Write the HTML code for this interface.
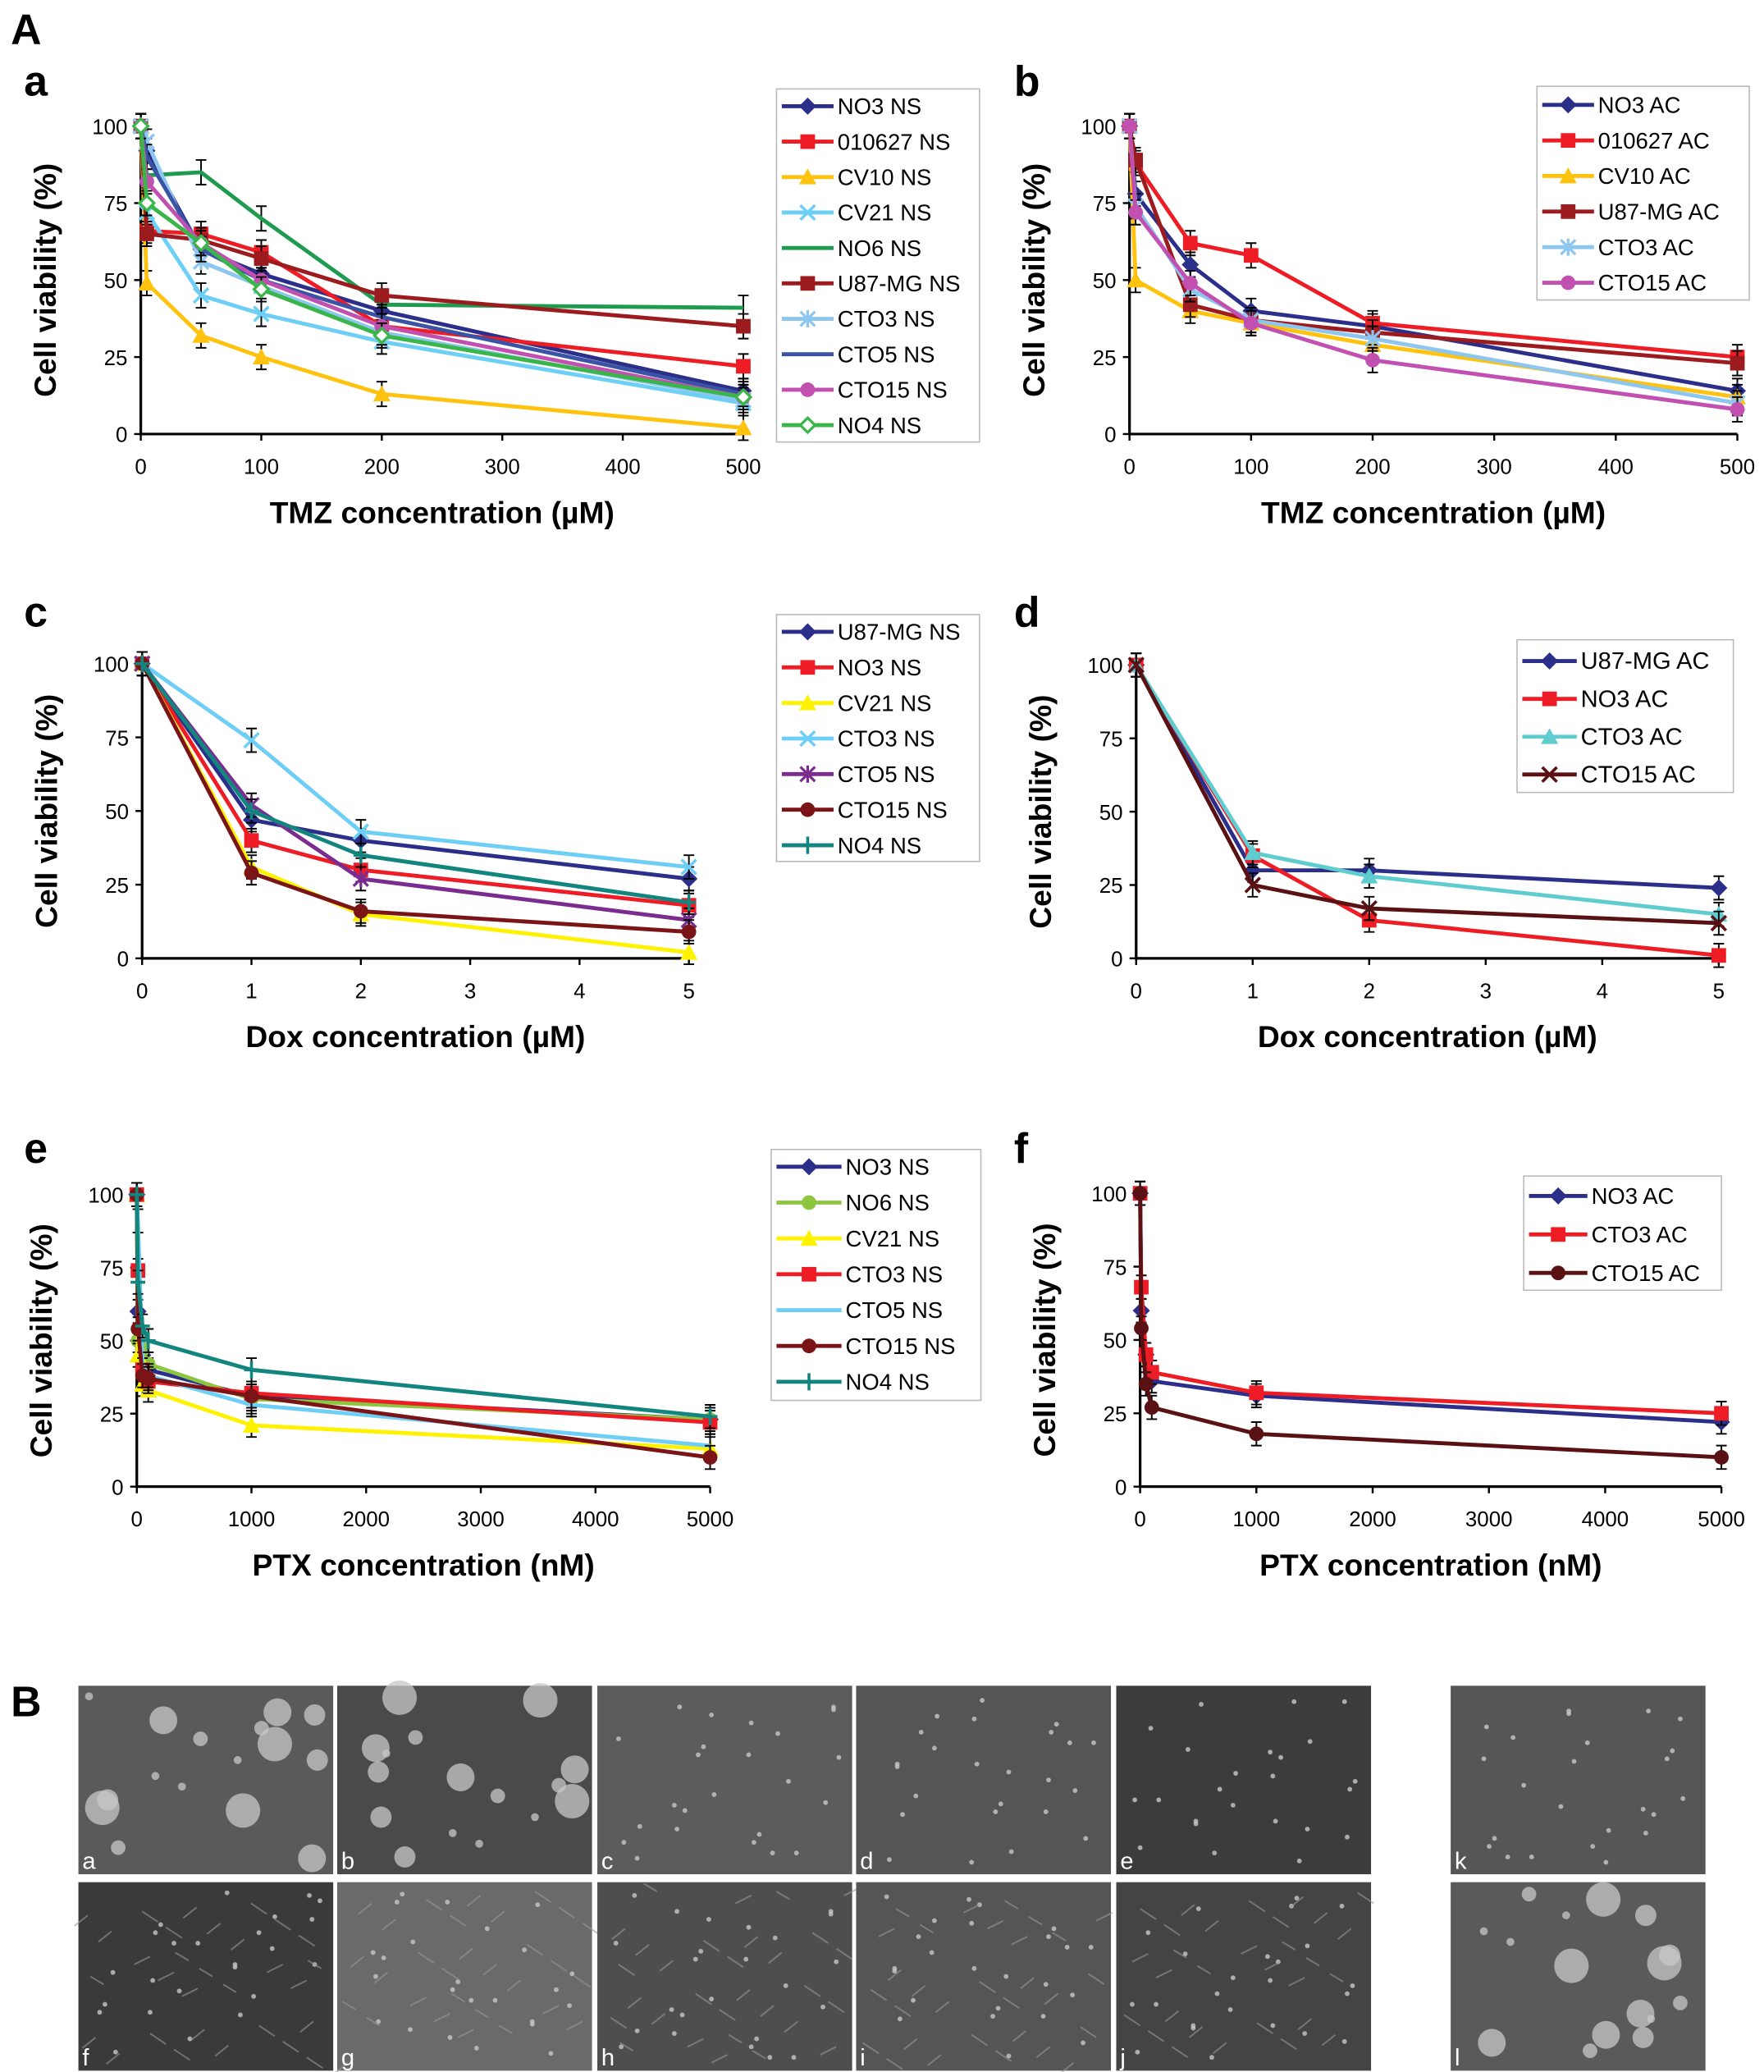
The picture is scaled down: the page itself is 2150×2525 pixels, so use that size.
<!DOCTYPE html>
<html><head><meta charset="utf-8"><style>
html,body{margin:0;padding:0;background:#fff}
svg{display:block;font-family:"Liberation Sans",Arial,sans-serif}
</style></head><body>
<svg id="fig" width="2150" height="2525" viewBox="0 0 1329 1561" xmlns="http://www.w3.org/2000/svg">
<rect width="1329" height="1561" fill="#fff"/>
<text x="8" y="33" font-size="32" font-weight="bold">A</text>
<text x="8" y="1293" font-size="32" font-weight="bold">B</text>
<g id="charts"></g>
<g id="photos"></g>
</svg>
<script>
// ---------- DATA ----------
const xTMZ = [0,5,50,100,200,500];
const aNames = ["NO3 NS","010627 NS","CV10 NS","CV21 NS","NO6 NS","U87-MG NS","CTO3 NS","CTO5 NS","CTO15 NS","NO4 NS"];
const aVals = [
 [100,92,60,52,40,14],[100,66,65,59,35,22],[100,49,32,25,13,2],[100,72,45,39,30,10],
 [100,84,85,70,42,41],[100,65,63,57,45,35],[100,95,56,48,33,11],[100,90,60,50,38,13],
 [100,82,62,50,35,12],[100,75,62,47,32,12]];
const bNames = ["NO3 AC","010627 AC","CV10 AC","U87-MG AC","CTO3 AC","CTO15 AC"];
const bVals = [[100,78,55,40,35,14],[100,88,62,58,36,25],[100,50,40,36,29,12],[100,89,42,37,33,23],[100,74,47,37,31,10],[100,72,49,36,24,8]];
const xDox = [0,1,2,5];
const cNames = ["U87-MG NS","NO3 NS","CV21 NS","CTO3 NS","CTO5 NS","CTO15 NS","NO4 NS"];
const cVals = [[100,47,40,27],[100,40,30,18],[100,31,15,2],[100,74,43,31],[100,52,27,13],[100,29,16,9],[100,50,35,19]];
const dNames = ["U87-MG AC","NO3 AC","CTO3 AC","CTO15 AC"];
const dVals = [[100,30,30,24],[100,35,13,1],[100,36,28,15],[100,25,17,12]];
const xPTX = [0,10,50,100,1000,5000];
const eNames = ["NO3 NS","NO6 NS","CV21 NS","CTO3 NS","CTO5 NS","CTO15 NS","NO4 NS"];
const eVals = [[100,60,45,40,31,23],[100,50,47,42,30,23],[100,45,35,33,21,13],[100,74,40,36,32,22],[100,91,42,38,28,14],[100,54,38,37,31,10],[100,70,55,50,40,24]];
const fNames = ["NO3 AC","CTO3 AC","CTO15 AC"];
const fVals = [[100,60,45,36,31,22],[100,68,45,39,32,25],[100,54,35,27,18,10]];
const yTicks = [0,25,50,75,100];
const tmzTicks = [0,100,200,300,400,500];
const doxTicks = [0,1,2,3,4,5];
const ptxTicks = [0,1000,2000,3000,4000,5000];

// ---------- STYLES ----------
const aSty=[["#2b2f8a","diamond"],["#ee1c24","square"],["#ffc20e","triangle"],["#6dcff6","x"],["#1e9b4f","none"],["#9b1b1e","square"],["#8dc6ee","star"],["#3a53a4","none"],["#c150b0","circle"],["#3ab54a","odiamond"]];
const bSty=[["#2b2f8a","diamond"],["#ee1c24","square"],["#ffc20e","triangle"],["#9b1b1e","square"],["#8dc6ee","star"],["#c150b0","circle"]];
const cSty=[["#2b2f8a","diamond"],["#ee1c24","square"],["#fff200","triangle"],["#6dcff6","x"],["#7b2c8f","star"],["#7a1416","circle"],["#13857f","plus"]];
const dSty=[["#2b2f8a","diamond"],["#ee1c24","square"],["#5fcdd0","triangle"],["#5a1114","x"]];
const eSty=[["#2b2f8a","diamond"],["#8cc63f","circle"],["#fff200","triangle"],["#ee1c24","square"],["#6dcff6","none"],["#7a1416","circle"],["#13857f","plus"]];
const fSty=[["#2b2f8a","diamond"],["#ee1c24","square"],["#5a1114","circle"]];

const NS="http://www.w3.org/2000/svg";
function mk(tag,attrs,parent){const e=document.createElementNS(NS,tag);for(const k in attrs)e.setAttribute(k,attrs[k]);parent.appendChild(e);return e;}

function marker(g,type,x,y,c){
  const s=5.5;
  if(type==="diamond") mk("polygon",{points:`${x},${y-s-1} ${x+s+1},${y} ${x},${y+s+1} ${x-s-1},${y}`,fill:c},g);
  else if(type==="odiamond") mk("polygon",{points:`${x},${y-s} ${x+s},${y} ${x},${y+s} ${x-s},${y}`,fill:"#fff",stroke:c,"stroke-width":2},g);
  else if(type==="square") mk("rect",{x:x-s,y:y-s,width:2*s,height:2*s,fill:c},g);
  else if(type==="triangle") mk("polygon",{points:`${x},${y-s-1} ${x+s+1},${y+s} ${x-s-1},${y+s}`,fill:c},g);
  else if(type==="circle") mk("circle",{cx:x,cy:y,r:s,fill:c},g);
  else if(type==="x"){mk("path",{d:`M${x-s} ${y-s}L${x+s} ${y+s}M${x-s} ${y+s}L${x+s} ${y-s}`,stroke:c,"stroke-width":2.2},g);}
  else if(type==="star"){mk("path",{d:`M${x-s} ${y-s}L${x+s} ${y+s}M${x-s} ${y+s}L${x+s} ${y-s}M${x} ${y-s-1}L${x} ${y+s+1}`,stroke:c,"stroke-width":2},g);}
  else if(type==="plus"){mk("path",{d:`M${x-s} ${y}L${x+s} ${y}M${x} ${y-s-1}L${x} ${y+s+1}`,stroke:c,"stroke-width":2.2},g);}
}

function chart(cfg){
  const root=document.getElementById("charts");
  const g=mk("g",{},root);
  
  
  const xs=v=>cfg.x0+(v-cfg.xmin)/(cfg.xmax-cfg.xmin)*(cfg.x1-cfg.x0);
  const ys=v=>cfg.y0+(v/100)*(cfg.y100-cfg.y0);
  const pl=mk("text",{x:cfg.lx,y:cfg.ly,"font-size":32,"font-weight":"bold"},g);pl.textContent=cfg.id;
  
  
  const ax=mk("path",{d:`M${cfg.x0} ${ys(100)-4}L${cfg.x0} ${cfg.y0}L${cfg.x1} ${cfg.y0}`,stroke:"#000","stroke-width":2,fill:"none"},g);
  
  
  yTicks.forEach(t=>{
    mk("line",{x1:cfg.x0-5,x2:cfg.x0,y1:ys(t),y2:ys(t),stroke:"#000","stroke-width":1.5},g);
    const tx=mk("text",{x:cfg.x0-10,y:ys(t)+6,"font-size":16,"text-anchor":"end"},g);tx.textContent=t;
    
    
  });
  cfg.xticks.forEach(t=>{
    mk("line",{x1:xs(t),x2:xs(t),y1:cfg.y0,y2:cfg.y0+5,stroke:"#000","stroke-width":1.5},g);
    const tx=mk("text",{x:xs(t),y:cfg.y0+30,"font-size":16,"text-anchor":"middle"},g);tx.textContent=t;
    
    
  });
  const yt=mk("text",{x:0,y:0,"font-size":23,"font-weight":"bold","text-anchor":"middle",transform:`translate(${cfg.x0-64},${(cfg.y0+ys(100))/2}) rotate(-90)`},g);
  yt.textContent="Cell viability (%)";
  
  
  const xt=mk("text",{x:(cfg.x0+cfg.x1)/2,y:cfg.y0+67,"font-size":23,"font-weight":"bold","text-anchor":"middle"},g);
  xt.textContent=cfg.xtitle;
  
  
  cfg.vals.forEach((vals,i)=>{
    const [c,m]=cfg.sty[i];
    const sg=mk("g",{},g);
    
    
    vals.forEach((v,j)=>{const x=xs(cfg.xv[j]);mk("path",{d:`M${x} ${ys(v-4)}L${x} ${ys(v+4)}M${x-4} ${ys(v-4)}L${x+4} ${ys(v-4)}M${x-4} ${ys(v+4)}L${x+4} ${ys(v+4)}`,stroke:"#000","stroke-width":1.2},sg);});
    mk("polyline",{points:vals.map((v,j)=>xs(cfg.xv[j])+","+ys(v)).join(" "),fill:"none",stroke:c,"stroke-width":3},sg);
    vals.forEach((v,j)=>marker(sg,m,xs(cfg.xv[j]),ys(v),c));
  });
  const L=cfg.leg;
  const lg=mk("g",{},g);
  
  
  mk("rect",{x:L.x,y:L.y,width:L.w,height:L.h,fill:"#fff",stroke:"#bbb","stroke-width":1},lg);
  cfg.names.forEach((n,i)=>{
    const [c,m]=cfg.sty[i];const y=L.r0+i*L.dy;
    const eg=mk("g",{},lg);
    
    
    mk("line",{x1:L.x+4,x2:L.x+L.lw,y1:y,y2:y,stroke:c,"stroke-width":3},eg);
    marker(eg,m,L.x+4+(L.lw-4)/2,y,c);
    const t=mk("text",{x:L.x+L.lw+3,y:y+6,"font-size":L.fs},eg);t.textContent=n;
  });
}

chart({id:"a",lx:18,ly:72,x0:106,x1:560,xmin:0,xmax:500,y0:327,y100:95,xticks:tmzTicks,xv:xTMZ,vals:aVals,names:aNames,sty:aSty,xtitle:"TMZ concentration (µM)",leg:{x:585,y:67,w:153,h:266,r0:80,dy:26.7,lw:43,fs:17}});
chart({id:"b",lx:764,ly:72,x0:851,x1:1309,xmin:0,xmax:500,y0:327,y100:95,xticks:tmzTicks,xv:xTMZ,vals:bVals,names:bNames,sty:bSty,xtitle:"TMZ concentration (µM)",leg:{x:1158,y:65,w:160,h:161,r0:79,dy:26.8,lw:43,fs:17}});
chart({id:"c",lx:18,ly:472,x0:107,x1:519,xmin:0,xmax:5,y0:722,y100:500,xticks:doxTicks,xv:xDox,vals:cVals,names:cNames,sty:cSty,xtitle:"Dox concentration (µM)",leg:{x:585,y:463,w:153,h:186,r0:476,dy:26.8,lw:43,fs:17}});
chart({id:"d",lx:764,ly:472,x0:856,x1:1295,xmin:0,xmax:5,y0:722,y100:501,xticks:doxTicks,xv:xDox,vals:dVals,names:dNames,sty:dSty,xtitle:"Dox concentration (µM)",leg:{x:1143,y:482,w:163,h:115,r0:498,dy:28.5,lw:45,fs:18}});
chart({id:"e",lx:18,ly:876,x0:103,x1:535,xmin:0,xmax:5000,y0:1120,y100:900,xticks:ptxTicks,xv:xPTX,vals:eVals,names:eNames,sty:eSty,xtitle:"PTX concentration (nM)",leg:{x:581,y:866,w:158,h:189,r0:879,dy:27,lw:53,fs:17}});
chart({id:"f",lx:764,ly:876,x0:859,x1:1297,xmin:0,xmax:5000,y0:1120,y100:899,xticks:ptxTicks,xv:xPTX,vals:fVals,names:fNames,sty:fSty,xtitle:"PTX concentration (nM)",leg:{x:1148,y:886,w:149,h:86,r0:901,dy:29,lw:48,fs:17}});

// ---------- photos ----------
const photoLabels=["a","b","c","d","e","k","f","g","h","i","j","l"];
const colsX=[59,254,450,645,841,1093];
const photoTones=["#5a5a5a","#4a4a4a","#5c5c5c","#555","#3c3c3c","#565656","#3a3a3a","#6a6a6a","#4e4e4e","#555","#444","#5a5a5a"];
const pg=document.getElementById("photos");
photoLabels.forEach((lab,i)=>{
  const r=Math.floor(i/6),c=i%6;
  const x=colsX[c],y=r?1418:1270;
  const g=mk("g",{},pg);
  
  
  mk("rect",{x:x,y:y,width:192,height:142,fill:photoTones[i]},g);
  const big=(lab==="a"||lab==="b"||lab==="l");
  const n=big?16:24;
  for(let k=0;k<n;k++){
    const cx=x+8+((k*73+i*29+k*k*11)%176), cy=y+8+((k*151+i*43+k*k*7)%126);
    mk("circle",{cx:cx,cy:cy,r:big?(3+(k%5)*2.5):1.8,fill:"#c8c8c8",opacity:big?0.75:0.8},g);
  }
  if(r===1 && !big){
    let d="";
    for(let k=0;k<30;k++){
      const x1=x+5+((k*47+i*13)%182), y1=y+5+((k*89+i*31)%132);
      d+=`M${x1} ${y1}l${(k%2?12:-10)} ${(k%3?8:-6)}`;
    }
    mk("path",{d:d,stroke:"#9a9a9a","stroke-width":1.2,fill:"none",opacity:0.6},g);
  }
  const t=mk("text",{x:x+3,y:y+138,"font-size":18,fill:"#fff"},g);t.textContent=lab;
});
</script>
</body></html>
